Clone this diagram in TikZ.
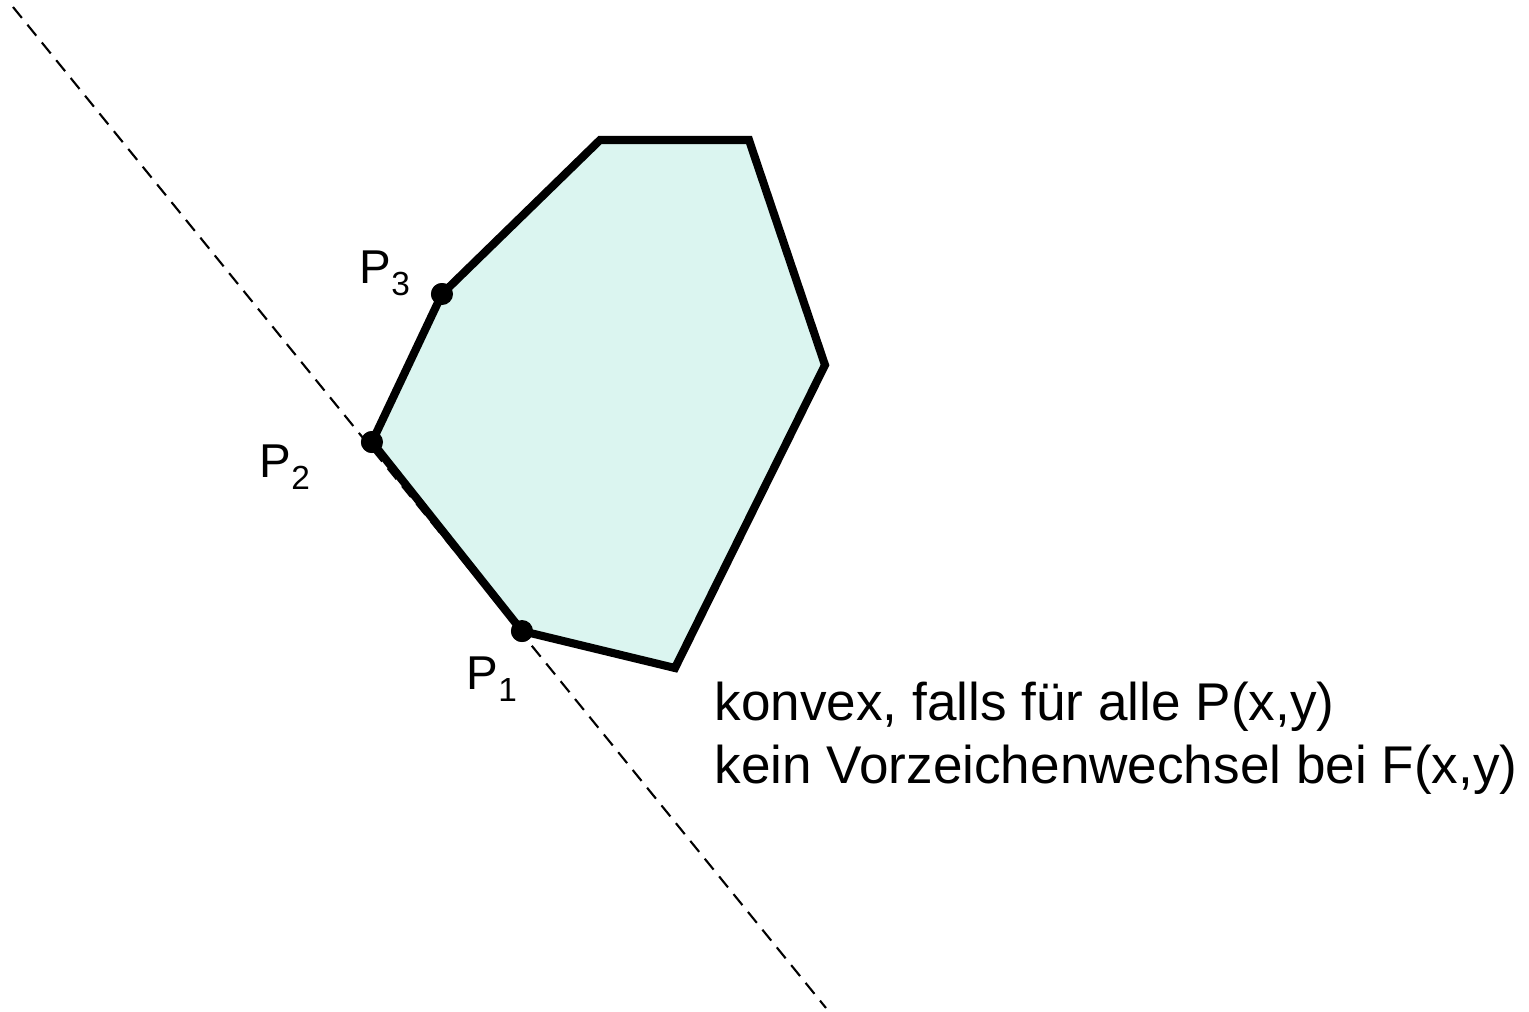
\documentclass[tikz,border=0pt]{standalone}
\usepackage{fontspec}
\setmainfont{Liberation Sans}
\definecolor{flaeche}{RGB}{219,245,240}
\tikzset{
  dot/.style={circle, fill=black, inner sep=0pt, minimum size=2.2mm},
  polygon/.style={draw=black, fill=flaeche, line width=2.3pt},
  gerade/.style={dash pattern=on 4pt off 2.5pt, line width=0.6pt},
  plabel/.style={anchor=base west, inner sep=0pt, font=\fontsize{13.5}{13.5}\selectfont},
  satz/.style={anchor=base west, inner sep=0pt, font=\fontsize{15.1}{18}\selectfont}
}
\newcommand{\pidx}[1]{P\raisebox{-3.6pt}{\fontsize{9.5}{9.5}\selectfont #1}}
\begin{document}
\begin{tikzpicture}[x=0.01cm, y=-0.01cm]
        \useasboundingbox (0,0) rectangle (1529,1011);

        % Punkte
        \node[dot] (p1) at (522,631) {};
        \node[dot] (p2) at (372,442) {};
        \node[dot] (p3) at (442,294) {};

        % Polygon
        \draw[polygon] (p1.center) -- (675,668) -- (825,365) -- (749,140)
            -- (600,140) -- (p3.center) -- (p2.center) -- cycle;
        \foreach \p in {p1,p2,p3}
            \node[dot] at (\p) {};

        % Gerade durch P1 und P2
        \coordinate (oben) at (13,7);
        \coordinate (unten) at (826,1008);
        \draw[gerade] (oben) -- (unten);

        % Beschriftung
        \node[plabel] (l1) at (466,689) {\pidx{1}};
        \node[plabel] (l2) at (259,477) {\pidx{2}};
        \node[plabel] (l3) at (359,283) {\pidx{3}};

        \node[satz] (konvex) at (714,720) {konvex, falls für alle P(x,y)};
        \node[satz] (vzw) at (714,783) {kein Vorzeichenwechsel bei F(x,y)};
\end{tikzpicture}
\end{document}
